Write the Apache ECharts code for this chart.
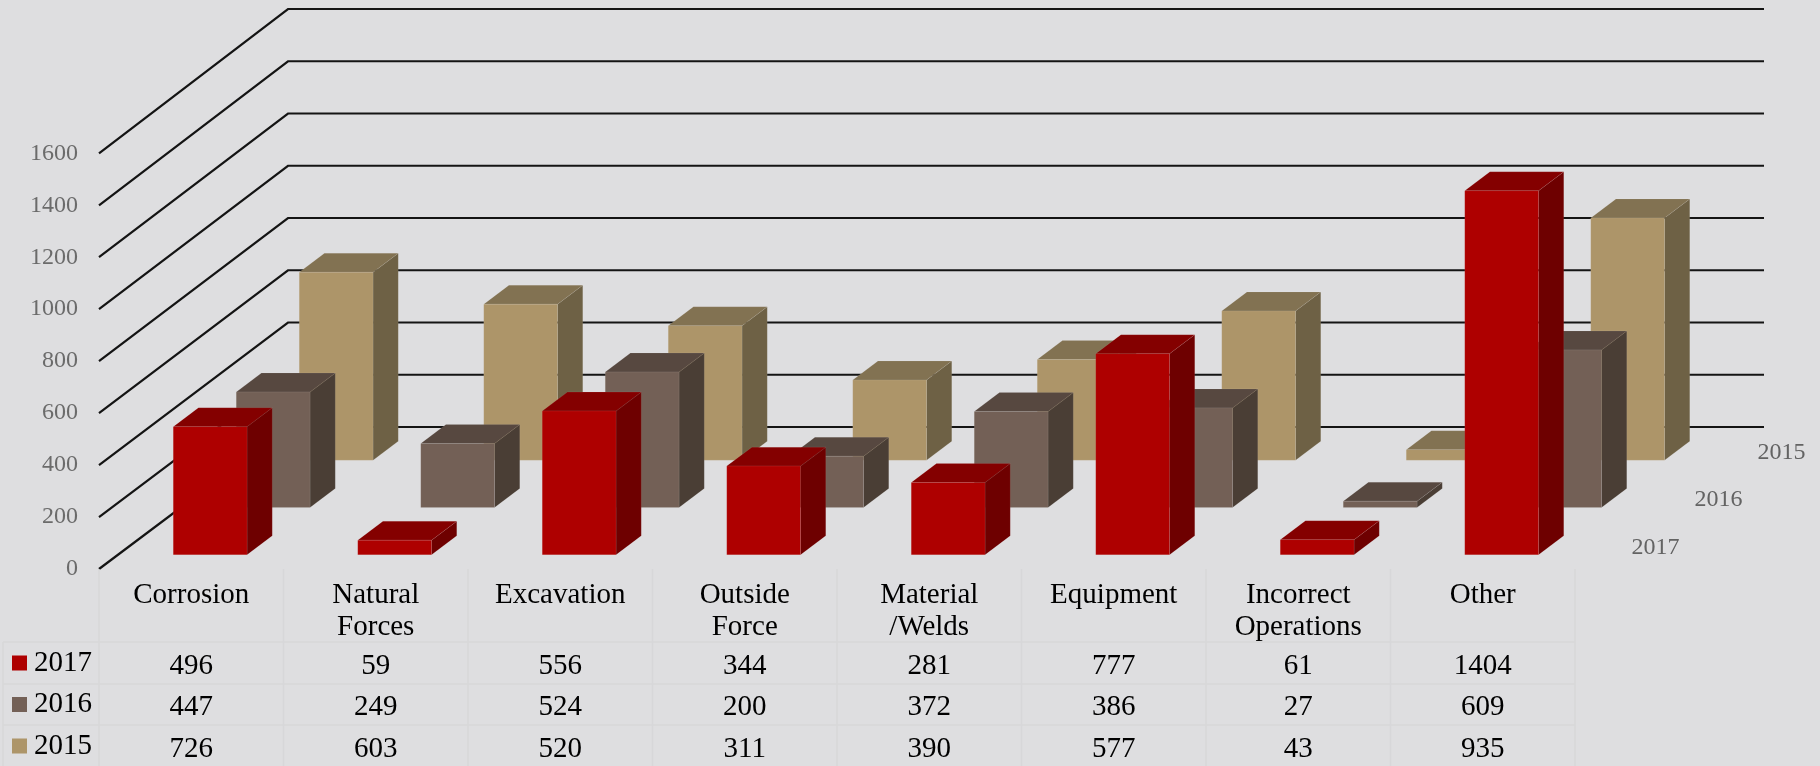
<!DOCTYPE html>
<html>
<head>
<meta charset="utf-8">
<style>
  html, body { margin: 0; padding: 0; background: #dedee0; }
  #main { width: 1820px; height: 766px; }
</style>
<script src="https://cdn.jsdelivr.net/npm/echarts@6/dist/echarts.min.js"></script>
</head>
<body>
<div id="main"></div>
<script>
const categories = ['Corrosion', 'Natural\nForces', 'Excavation', 'Outside\nForce', 'Material\n/Welds', 'Equipment', 'Incorrect\nOperations', 'Other'];
const years = ['2017', '2016', '2015'];
const values2017 = [496, 59, 556, 344, 281, 777, 61, 1404];
const values2016 = [447, 249, 524, 200, 372, 386, 27, 609];
const values2015 = [726, 603, 520, 311, 390, 577, 43, 935];
const yTicks = [0, 200, 400, 600, 800, 1000, 1200, 1400, 1600];

const FONT = '"Liberation Serif", "Times New Roman", serif';
// oblique floor: how far the back wall sits from the front edge, in px
const DEPTH_X = 189;
const DEPTH_Y = 142;
const BACK_WALL_SCALE = 1.0055; // back wall spacing is a touch wider than the front
const ROWS = years.length;
const BAR_WIDTH = 0.4;   // of a category
const BAR_DEPTH = 0.4;   // of a row
const ROW_GAP = 0.3;
const BAR_TOP_DROP = 0.7; // bars stop just short of their value line
const GRID_LINE_COLOR = '#141414';
const TABLE_LINE_COLOR = '#d7d7d9';
const TABLE_FONT_SIZE = 29;
const TICK_FONT_SIZE = 24;
// table rows below the x axis, px from the zero line
const TABLE_HEADER_BOTTOM = 73;
const TABLE_ROW_BOTTOMS = [115, 156, 197];
const TABLE_ROW_CENTERS = [97, 138, 180];
const TABLE_LEFT = 3;

const colors = {
  '2017': { face: '#ae0000', top: '#840000', side: '#6e0000' },
  '2016': { face: '#736056', top: '#574840', side: '#4a3e35' },
  '2015': { face: '#ad9569', top: '#827252', side: '#6e6145' }
};

function line(x1, y1, x2, y2, color, width) {
  return {
    type: 'line',
    shape: { x1: x1, y1: y1, x2: x2, y2: y2 },
    style: { stroke: color, lineWidth: width }
  };
}

function label(text, x, y, align, size, color) {
  return {
    type: 'text',
    style: {
      text: text, x: x, y: y, align: align, verticalAlign: 'middle',
      fontFamily: FONT, fontSize: size, fill: color
    }
  };
}

function face(points, color) {
  return {
    type: 'polygon',
    shape: { points: points },
    style: { fill: color, stroke: 'rgba(255,255,255,.07)', lineWidth: 1 }
  };
}

// one 3D bar, row 0 is the front row
function barRenderer(year) {
  const row = years.indexOf(year);
  const c = colors[year];
  return function (params, api) {
    const base = api.coord([api.value(0), 0]);
    const top = api.coord([api.value(0), api.value(1)]);
    const w = api.size([1, 0])[0] * BAR_WIDTH;
    const t = (row + ROW_GAP) / ROWS;
    const x0 = base[0] - w / 2 + DEPTH_X * t;
    const x1 = x0 + w;
    const y0 = base[1] - DEPTH_Y * t;
    const y1 = top[1] - DEPTH_Y * t + BAR_TOP_DROP;
    const dx = DEPTH_X / ROWS * BAR_DEPTH;
    const dy = DEPTH_Y / ROWS * BAR_DEPTH;
    return {
      type: 'group',
      children: [
        face([[x1, y0], [x1 + dx, y0 - dy], [x1 + dx, y1 - dy], [x1, y1]], c.side),
        face([[x0, y1], [x1, y1], [x1 + dx, y1 - dy], [x0 + dx, y1 - dy]], c.top),
        face([[x0, y0], [x1, y0], [x1, y1], [x0, y1]], c.face)
      ]
    };
  };
}

function barSeries(year, values) {
  return {
    name: year,
    type: 'custom',
    renderItem: barRenderer(year),
    itemStyle: { color: colors[year].face },
    encode: { x: 0, y: 1 },
    data: values.map(function (v, i) { return [i, v]; })
  };
}

// wall line and back line for each tick
function renderGridLine(params, api) {
  const p = api.coord([0, api.value(1)]);
  const zero = api.coord([0, 0]);
  const last = api.coord([categories.length - 1, api.value(1)]);
  const half = api.size([1, 0])[0] / 2;
  const x0 = p[0] - half;
  const bx = x0 + DEPTH_X;
  const by = zero[1] - DEPTH_Y - (zero[1] - p[1]) * BACK_WALL_SCALE;
  return {
    type: 'polyline',
    shape: { points: [[x0, p[1]], [bx, by], [last[0] + half + DEPTH_X, by]] },
    style: { stroke: GRID_LINE_COLOR, lineWidth: 2.2, fill: null }
  };
}

function renderTableLines(params, api) {
  const i = api.value(0);
  const p = api.coord([i, 0]);
  const half = api.size([1, 0])[0] / 2;
  const bottom = p[1] + TABLE_ROW_BOTTOMS[2];
  const children = [line(p[0] - half, p[1], p[0] - half, bottom, TABLE_LINE_COLOR, 1.5)];
  if (i === categories.length - 1) {
    children.push(line(p[0] + half, p[1], p[0] + half, bottom, TABLE_LINE_COLOR, 1.5));
  }
  // header line and row lines run under this column; the first column also takes the legend cell
  const left = i === 0 ? TABLE_LEFT : p[0] - half;
  [TABLE_HEADER_BOTTOM, TABLE_ROW_BOTTOMS[0], TABLE_ROW_BOTTOMS[1]].forEach(function (d) {
    children.push(line(left, p[1] + d, p[0] + half, p[1] + d, TABLE_LINE_COLOR, 1.5));
  });
  if (i === 0) {
    children.push(line(TABLE_LEFT, p[1] + TABLE_HEADER_BOTTOM, TABLE_LEFT, bottom, TABLE_LINE_COLOR, 1.5));
  }
  return { type: 'group', children: children };
}

function renderTableCell(params, api) {
  const p = api.coord([api.value(0), 0]);
  return label(String(api.value(2)), p[0], p[1] + TABLE_ROW_CENTERS[api.value(1)], 'center', TABLE_FONT_SIZE, '#000');
}

// year names along the right edge of the floor
function renderDepthLabel(params, api) {
  const row = api.value(1);
  const p = api.coord([categories.length - 1, 0]);
  const half = api.size([1, 0])[0] / 2;
  const t = (row + 0.5) / ROWS;
  return label(years[row], p[0] + half + DEPTH_X * t + 25, p[1] - DEPTH_Y * t + 2, 'left', TICK_FONT_SIZE, '#636363');
}

const tableData = [];
[values2017, values2016, values2015].forEach(function (values, row) {
  values.forEach(function (v, i) { tableData.push([i, row, v]); });
});

(function () {
  const myChart = echarts.init(document.getElementById('main'));
  const option = {
    animation: false,
    backgroundColor: '#dedee0',
    grid: { left: 99, top: 153.3, width: 1476, height: 415.7 },
    legend: {
      data: years,
      orient: 'vertical',
      left: 12,
      top: 645,
      padding: 0,
      itemGap: 5.5,
      itemWidth: 15,
      itemHeight: 15,
      icon: 'rect',
      selectedMode: false,
      textStyle: { fontFamily: FONT, fontSize: TABLE_FONT_SIZE, color: '#000', lineHeight: 30, padding: [6, 0, 0, 2] }
    },
    xAxis: {
      type: 'category',
      data: categories,
      axisLine: { show: false },
      axisTick: { show: false },
      splitLine: { show: false },
      axisLabel: {
        interval: 0,
        margin: 10,
        fontFamily: FONT,
        fontSize: TABLE_FONT_SIZE,
        lineHeight: 32,
        color: '#000',
        verticalAlign: 'top'
      }
    },
    yAxis: {
      type: 'value',
      min: 0,
      max: 1600,
      interval: 200,
      axisLine: { show: false },
      axisTick: { show: false },
      splitLine: { show: false },
      axisLabel: {
        margin: 21,
        fontFamily: FONT,
        fontSize: TICK_FONT_SIZE,
        color: '#6b6b6b',
        padding: [2, 0, 0, 0],
        formatter: function (v) { return String(v); }
      }
    },
    series: [
      {
        name: 'gridLines',
        type: 'custom',
        renderItem: renderGridLine,
        encode: { x: 0, y: 1 },
        data: yTicks.map(function (t) { return [0, t]; })
      },
      {
        name: 'tableLines',
        type: 'custom',
        renderItem: renderTableLines,
        encode: { x: 0 },
        data: categories.map(function (c, i) { return [i]; })
      },
      {
        name: 'tableCells',
        type: 'custom',
        renderItem: renderTableCell,
        encode: { x: 0 },
        data: tableData
      },
      {
        name: 'depthLabels',
        type: 'custom',
        renderItem: renderDepthLabel,
        encode: { x: 0 },
        data: years.map(function (y, row) { return [categories.length - 1, row]; })
      },
      barSeries('2015', values2015),
      barSeries('2016', values2016),
      barSeries('2017', values2017)
    ]
  };
  myChart.setOption(option);
  window.addEventListener('resize', function () {
    myChart.resize();
  });
})();
</script>
</body>
</html>
